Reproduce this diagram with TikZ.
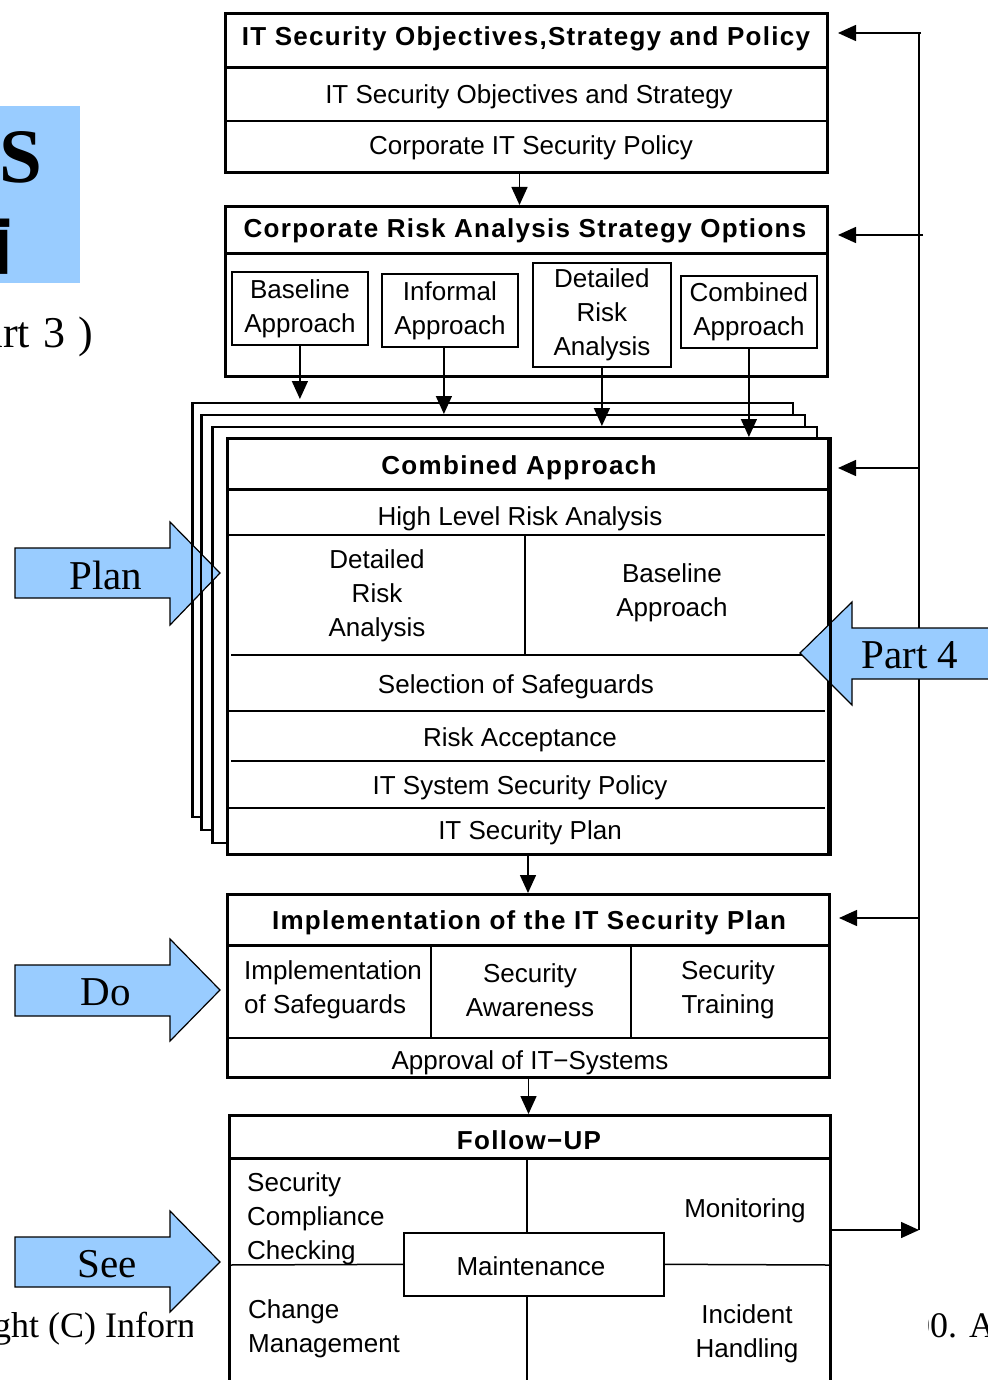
\documentclass[tikz,border=0pt]{standalone}
\usepackage{fontspec}
\setmainfont{Liberation Sans}
\newfontfamily\serifface{Liberation Serif}
\newfontfamily\headface{Liberation Sans}[LetterSpace=5]
\newfontfamily\cjkface{Noto Sans CJK JP}
\usetikzlibrary{arrows.meta}
\definecolor{phaseblue}{HTML}{99CCFF}
\tikzset{
  body/.style={font=\fontsize{26}{34}\selectfont, inner sep=0pt, align=center},
  head/.style={font=\headface\bfseries\fontsize{26}{34}\selectfont, inner sep=0pt, anchor=base},
  frame/.style={draw, line width=3pt, fill=white, inner sep=0pt, anchor=north west},
  sheet/.style={draw, line width=1.6pt, fill=white, inner sep=0pt, anchor=north west},
  option/.style={draw, line width=1.8pt, fill=white, inner sep=0pt, anchor=north west,
                 align=center, font=\fontsize{26}{34}\selectfont},
  rule/.style={line width=1.5pt},
  boldrule/.style={line width=3pt},
  flow/.style={line width=1.5pt, -{Triangle[length=18pt,width=16pt]}},
  phase/.style={draw=black, line width=1.2pt, fill=phaseblue, line join=miter},
  phaselabel/.style={font=\serifface\fontsize{41}{45}\selectfont, inner sep=0pt, anchor=base},
  slidetext/.style={font=\serifface\fontsize{36}{40}\selectfont, inner sep=0pt, anchor=base west},
}
\begin{document}
\begin{tikzpicture}[x=1pt,y=-1pt]
\useasboundingbox (0,0) rectangle (987,1380);
\fill[white] (0,0) rectangle (987,1380);

% ---- slide background: title fragment, part label, footer ----
\fill[phaseblue] (0,106) rectangle (80,283);
\node[anchor=base west, inner sep=0pt, font=\serifface\bfseries\fontsize{77}{80}\selectfont] (titleS) at (-1,183) {S};
\node[anchor=base east, inner sep=0pt, font=\cjkface\bfseries\fontsize{62}{62}\selectfont] (titleK) at (13,268) {画};
\node[anchor=base east, inner sep=0pt, font=\serifface\fontsize{44}{48}\selectfont] (partthree) at (93,347) {\spaceskip=13pt (Part 3 )};
\begin{scope}
  \clip (-5,1290) rectangle (192,1370);
  \node[slidetext] (footleft) at (-7,1337) {ght (C) Inform};
\end{scope}
\begin{scope}
  \clip (928,1290) rectangle (995,1370);
  \node[slidetext] (footright) at (912,1337) {00. A};
\end{scope}

% ---- feedback bus on the right ----
\coordinate (fbtop) at (919,33);
\coordinate (fbend) at (919,1230);
\coordinate (fb1) at (921,33);
\coordinate (fb2) at (923,235);
\coordinate (fb3) at (919,468);
\coordinate (fb4) at (919,918);
\draw[rule] (fbtop) -- (fbend);

% ---- IT security objectives, strategy and policy ----
\node[frame, minimum width=602pt, minimum height=159pt] (obj) at (224,12) {};
\draw[boldrule] (224,68) -- (826,68);
\draw[rule] (224,121) -- (826,121);
\node[head] (objhead) at (526,46) {IT Security Objectives,Strategy and Policy};
\node[body, anchor=base] (objstrat) at (529,104) {IT Security Objectives and Strategy};
\node[body, anchor=base] (objpol) at (531,155) {Corporate IT Security Policy};

% ---- risk analysis strategy options ----
\node[frame, minimum width=602pt, minimum height=170pt] (opts) at (224,205) {};
\draw[boldrule] (224,253) -- (826,253);
\node[head] (optshead) at (525,237) {Corporate Risk Analysis Strategy Options};
\node[option, minimum width=136pt, minimum height=73pt] (base) at (231,271) {Baseline\\Approach};
\node[option, minimum width=136pt, minimum height=73pt] (informal) at (381,273) {Informal\\Approach};
\node[option, minimum width=138pt, minimum height=104pt] (detailed) at (532,262) {Detailed\\Risk\\Analysis};
\node[option, minimum width=136pt, minimum height=72pt] (combined) at (680,275) {Combined\\Approach};

% ---- stacked sheets of the combined approach ----
\node[sheet, minimum width=600pt, minimum height=414pt] (pg1) at (192,402) {};
\node[sheet, minimum width=603pt, minimum height=415pt] (pg2) at (201,414) {};
\node[sheet, minimum width=604pt, minimum height=416pt] (pg3) at (212,426) {};
\node[frame, minimum width=601pt, minimum height=416pt] (front) at (226,437) {};
\draw[boldrule] (226,489) -- (827,489);
\draw[rule] (228,535) -- (825,535);
\draw[rule] (525,535) -- (525,655);
\draw[rule] (231,655) -- (825,655);
\draw[rule] (228,711) -- (825,711);
\draw[rule] (231,761) -- (825,761);
\draw[rule] (228,808) -- (825,808);
\node[head] (fronthead) at (519,474) {Combined Approach};
\node[body, anchor=base] (hlra) at (520,525) {High Level Risk Analysis};
\node[body] (fdra) at (377,596) {Detailed\\Risk\\Analysis};
\node[body] (fbase) at (672,593) {Baseline\\Approach};
\node[body, anchor=base] (select) at (516,693) {Selection of Safeguards};
\node[body, anchor=base] (accept) at (520,746) {Risk Acceptance};
\node[body, anchor=base] (syspol) at (520,794) {IT System Security Policy};
\node[body, anchor=base] (secplan) at (530,839) {IT Security Plan};

% ---- implementation ----
\node[frame, minimum width=602pt, minimum height=183pt] (impl) at (226,893) {};
\draw[boldrule] (226,945) -- (828,945);
\draw[rule] (431,945) -- (431,1038);
\draw[rule] (631,945) -- (631,1038);
\draw[rule] (226,1038) -- (828,1038);
\node[head] (implhead) at (529,929) {Implementation of the IT Security Plan};
\node[body, align=left, anchor=west] (implsafe) at (244,990) {Implementation\\of Safeguards};
\node[body] (aware) at (530,990) {Security\\Awareness};
\node[body] (train) at (728,990) {Security\\Training};
\node[body, anchor=base] (approve) at (530,1069) {Approval of IT−Systems};

% ---- follow-up ----
\node[frame, minimum width=601pt, minimum height=300pt] (follow) at (228,1114) {};
\draw[boldrule] (228,1158) -- (829,1158);
\node[draw, line width=1.6pt, fill=white, inner sep=0pt, anchor=north west,
      minimum width=260pt, minimum height=63pt] (maint) at (403,1232) {};
\draw[rule] (527,1158) -- (527,1232);
\draw[rule] (527,1295) -- (527,1420);
\draw[rule] (228,1265) -- (maint.west);
\draw[rule] (maint.east) -- (829,1265);
\node[body, anchor=base] (mainttext) at (531,1275) {Maintenance};
\node[head] (followhead) at (529,1149) {Follow−UP};
\node[body, align=left, anchor=west] (compl) at (247,1219) {Security\\Compliance\\Checking};
\node[body, anchor=base] (monit) at (745,1217) {Monitoring};
\node[body, align=left, anchor=west] (change) at (248,1329) {Change\\Management};
\node[body] (incident) at (747,1334) {Incident\\Handling};

% ---- flow between the stages ----
\draw[flow] ([xshift=-7pt]obj.south) -- ([xshift=-7pt]opts.north);
\draw[flow, shorten >=3pt] (base.south) -- (base.south |- pg1.north);
\draw[flow] ([xshift=-6pt]informal.south) -- ([xshift=-6pt]informal.south |- pg2.north);
\draw[flow] (detailed.south) -- (detailed.south |- pg3.north);
\draw[flow] (combined.south) -- (combined.south |- front.north);
\draw[flow] (front.south) -- (front.south |- impl.north);
\draw[flow] (impl.south) -- (impl.south |- follow.north);

% ---- feedback arrows ----
\draw[flow, shorten >=9pt] (fb1) -- (fb1 -| obj.east);
\draw[flow, shorten >=9pt] (fb2) -- (fb2 -| opts.east);
\draw[flow, shorten >=8pt] (fb3) -- (fb3 -| front.east);
\draw[flow, shorten >=8pt] (fb4) -- (fb4 -| impl.east);
\draw[flow] (follow.east |- fbend) -- (fbend);

% ---- PDCA phase arrows ----
\draw[phase] (15,548) -- (170,548) -- (170,522) -- (220,573) -- (170,625) -- (170,598) -- (15,598) -- cycle;
\node[phaselabel] (plan) at (106,589) {Plan};
\draw[phase] (15,965) -- (170,965) -- (170,939) -- (220,990) -- (170,1041) -- (170,1016) -- (15,1016) -- cycle;
\node[phaselabel] (do) at (106,1005) {Do};
\draw[phase] (15,1237) -- (170,1237) -- (170,1211) -- (220,1262) -- (170,1312) -- (170,1287) -- (15,1287) -- cycle;
\node[phaselabel] (see) at (107,1277) {See};
% sheet edges stay visible over the plan arrow
\draw[line width=1.6pt] (pg1.north west) -- (pg1.south west);
\draw[line width=1.6pt] (pg2.north west) -- (pg2.south west);
\draw[line width=1.6pt] (pg3.north west) -- (pg3.south west);

\draw[phase] (1000,628) -- (852,628) -- (852,602) -- (800,653) -- (852,705) -- (852,679) -- (1000,679);
\node[phaselabel] (partfour) at (910,668) {Part 4};
\draw[boldrule] (front.north east) -- (front.south east);
\end{tikzpicture}
\end{document}
